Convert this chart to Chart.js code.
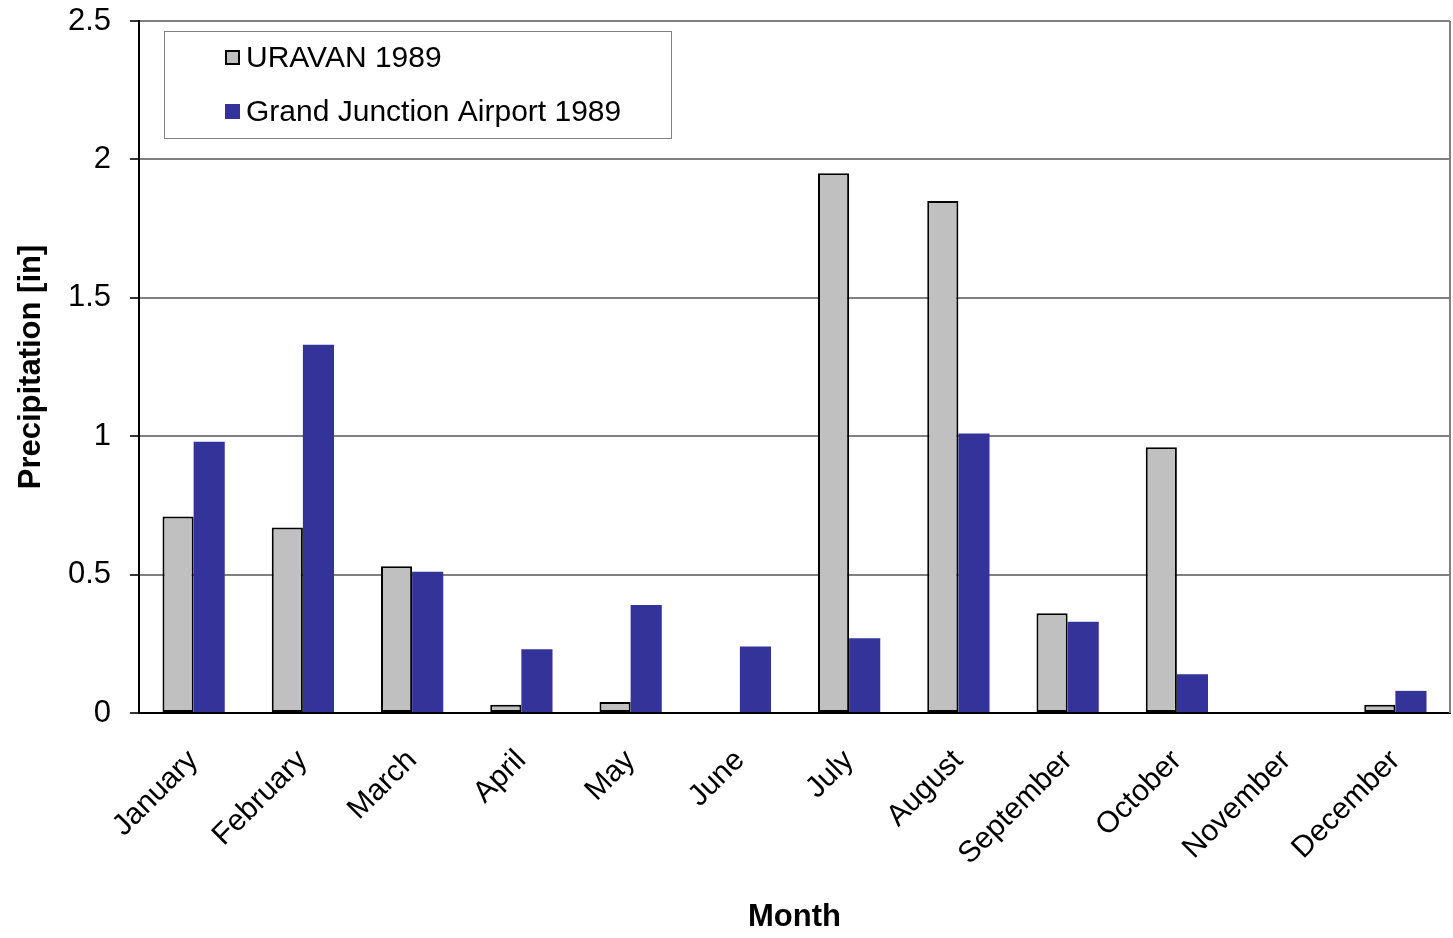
<!DOCTYPE html>
<html>
<head>
<meta charset="utf-8">
<script src="https://cdn.jsdelivr.net/npm/chart.js@4/dist/chart.umd.min.js"></script>
<style>
  html, body { margin: 0; padding: 0; background: #fff; }
  #wrap { width: 1453px; height: 938px; }
</style>
</head>
<body>
<div id="wrap"><canvas id="precipChart" width="1453" height="938"></canvas></div>
<script>
// Data
const months = ['January', 'February', 'March', 'April', 'May', 'June', 'July',
  'August', 'September', 'October', 'November', 'December'];
const uravan = [0.71, 0.67, 0.53, 0.03, 0.04, 0, 1.95, 1.85, 0.36, 0.96, 0, 0.03];
const grandJunction = [0.98, 1.33, 0.51, 0.23, 0.39, 0.24, 0.27, 1.01, 0.33, 0.14, 0, 0.08];
const yTicks = [0, 0.5, 1, 1.5, 2, 2.5];

const FONT = '"Liberation Sans", Arial, sans-serif';

// Legend box drawn inside the plot, like the original
const boxLegend = {
  id: 'boxLegend',
  afterDatasetsDraw(chart) {
    const { ctx, chartArea } = chart;
    const x0 = chartArea.left + 25, y0 = chartArea.top + 10;
    ctx.save();
    ctx.fillStyle = '#fff';
    ctx.fillRect(x0, y0, 507, 107);
    ctx.strokeStyle = '#808080';
    ctx.lineWidth = 1;
    ctx.strokeRect(x0 + 0.5, y0 + 0.5, 507, 107);
    ctx.font = '30px ' + FONT;
    ctx.textBaseline = 'middle';
    chart.data.datasets.forEach((ds, i) => {
      const cy = y0 + 27 + i * 54;
      ctx.fillStyle = ds.backgroundColor;
      ctx.fillRect(x0 + 61, cy - 8, 15, 15);
      if (ds.borderWidth) {
        ctx.strokeStyle = '#000';
        ctx.lineWidth = 2;
        ctx.strokeRect(x0 + 62, cy - 7, 13, 13);
      }
      ctx.fillStyle = '#000';
      ctx.fillText(ds.label, x0 + 82, cy + 1);
    });
    ctx.restore();
  },
  afterDraw(chart) {
    const { ctx, chartArea } = chart;
    ctx.save();
    ctx.strokeStyle = '#808080';
    ctx.lineWidth = 2;
    ctx.beginPath();
    ctx.moveTo(chartArea.right, chartArea.top);
    ctx.lineTo(chartArea.right, chartArea.bottom);
    ctx.stroke();
    ctx.restore();
  }
};

new Chart(document.getElementById('precipChart'), {
  type: 'bar',
  data: {
    labels: months,
    datasets: [
      {
        label: 'URAVAN 1989',
        data: uravan,
        backgroundColor: '#C0C0C0',
        borderColor: '#000',
        borderWidth: 2,
        borderSkipped: false
      },
      {
        label: 'Grand Junction Airport 1989',
        data: grandJunction,
        backgroundColor: '#333399',
        borderWidth: 0
      }
    ]
  },
  options: {
    responsive: false,
    animation: false,
    categoryPercentage: 0.57,
    barPercentage: 1.0,
    layout: { padding: { top: 0, right: 3, left: 0, bottom: 0 } },
    plugins: {
      legend: { display: false },
      tooltip: { enabled: false }
    },
    scales: {
      x: {
        grid: { display: false, drawTicks: false },
        border: { color: '#000', width: 2 },
        ticks: {
          color: '#000',
          font: { family: FONT, size: 30 },
          minRotation: 45,
          maxRotation: 45,
          padding: 30
        },
        title: {
          display: true,
          text: 'Month',
          color: '#000',
          font: { family: FONT, size: 31, weight: 'bold' },
          padding: { top: 0, bottom: 2 }
        },
        afterFit(scale) { scale.height = 225; }
      },
      y: {
        min: 0,
        max: 2.5,
        afterBuildTicks(scale) { scale.ticks = yTicks.map(v => ({ value: v })); },
        grid: { color: '#808080', lineWidth: 2, tickColor: '#333', tickLength: 9 },
        border: { color: '#000', width: 2 },
        ticks: {
          color: '#000',
          font: { family: FONT, size: 31 },
          padding: 19,
          callback: v => String(v)
        },
        title: {
          display: true,
          text: 'Precipitation [in]',
          color: '#000',
          font: { family: FONT, size: 31, weight: 'bold' },
          padding: { top: 13, bottom: 0 }
        },
        afterFit(scale) {
          scale.width = 139;
          scale.paddingTop = 21;
        }
      }
    }
  },
  plugins: [boxLegend]
});
</script>
</body>
</html>
